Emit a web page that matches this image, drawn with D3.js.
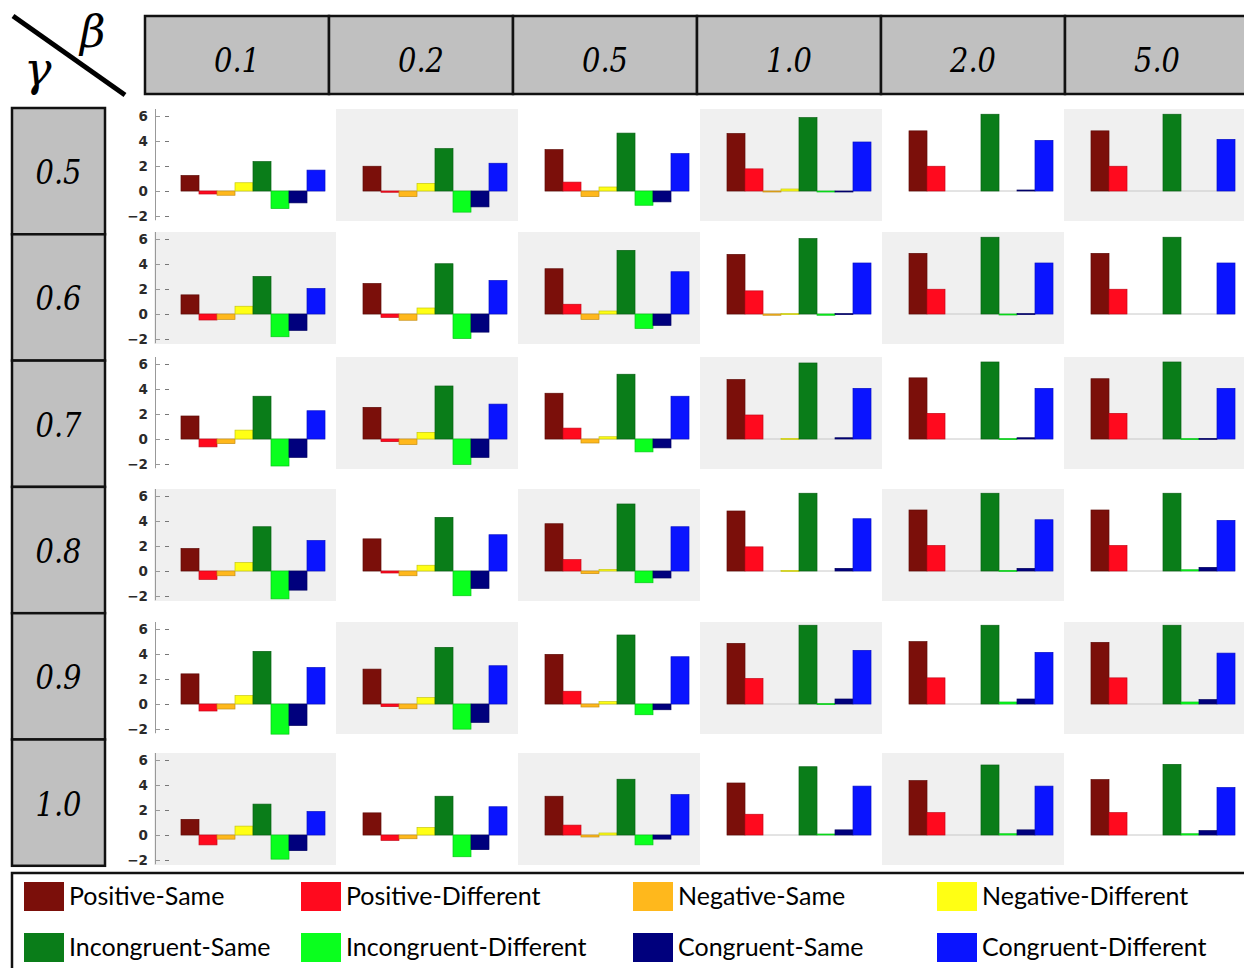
<!DOCTYPE html>
<html>
<head>
<meta charset="utf-8">
<script src="https://cdn.jsdelivr.net/npm/d3@7"></script>
<style>
  body { margin: 0; background: #fff; }
  .serif { font-family: "DejaVu Serif", serif; font-style: italic; }
</style>
</head>
<body>
<svg id="chart" width="1244" height="968"></svg>
<script>
// ---- data ----
const betas = ["0.1", "0.2", "0.5", "1.0", "2.0", "5.0"]
const gammas = ["0.5", "0.6", "0.7", "0.8", "0.9", "1.0"]
const seriesNames = ["Positive-Same", "Positive-Different", "Negative-Same", "Negative-Different",
                     "Incongruent-Same", "Incongruent-Different", "Congruent-Same", "Congruent-Different"]
const seriesColors = ["#7b0f0a", "#ff0a1e", "#ffb81c", "#ffff14", "#0a7d19", "#0aff1e", "#00007d", "#0a14ff"]
const yTicks = [-2, 0, 2, 4, 6]

// one list per gamma row, one entry per beta column, 8 bars in series order
const gamma05 = [
  [1.24, -0.24, -0.34, 0.66, 2.35, -1.40, -0.95, 1.67],
  [1.98, -0.10, -0.45, 0.61, 3.39, -1.69, -1.27, 2.22],
  [3.31, 0.71, -0.45, 0.32, 4.63, -1.14, -0.87, 2.99],
  [4.60, 1.77, -0.08, 0.16, 5.87, -0.08, -0.08, 3.92],
  [4.81, 1.98, 0, 0, 6.14, 0, 0.08, 4.05],
  [4.81, 1.98, 0, 0, 6.14, 0, 0, 4.13]
]
const gamma06 = [
  [1.53, -0.48, -0.43, 0.62, 3.00, -1.82, -1.31, 2.04],
  [2.44, -0.27, -0.50, 0.48, 4.02, -1.96, -1.45, 2.68],
  [3.62, 0.78, -0.43, 0.24, 5.09, -1.15, -0.91, 3.38],
  [4.77, 1.85, -0.10, 0.03, 6.03, -0.10, 0.03, 4.08],
  [4.85, 1.98, 0, 0, 6.14, -0.03, 0.03, 4.08],
  [4.85, 1.98, 0, 0, 6.14, 0, 0, 4.08]
]
const gamma07 = [
  [1.84, -0.63, -0.37, 0.71, 3.42, -2.16, -1.47, 2.26],
  [2.53, -0.21, -0.45, 0.53, 4.24, -2.03, -1.47, 2.79],
  [3.66, 0.87, -0.32, 0.18, 5.18, -1.03, -0.71, 3.42],
  [4.76, 1.92, 0, 0.05, 6.08, 0, 0.10, 4.05],
  [4.89, 2.05, 0, 0, 6.16, 0.03, 0.10, 4.05],
  [4.82, 2.05, 0, 0, 6.16, 0.03, 0.05, 4.05]
]
const gamma08 = [
  [1.80, -0.67, -0.38, 0.67, 3.54, -2.23, -1.53, 2.44],
  [2.57, -0.16, -0.38, 0.46, 4.29, -1.98, -1.39, 2.90],
  [3.78, 0.91, -0.21, 0.13, 5.36, -0.94, -0.56, 3.54],
  [4.80, 1.93, 0, 0.05, 6.22, 0, 0.21, 4.18],
  [4.88, 2.04, 0, 0, 6.22, 0.05, 0.21, 4.10],
  [4.88, 2.04, 0, 0, 6.22, 0.10, 0.29, 4.05]
]
const gamma09 = [
  [2.41, -0.56, -0.40, 0.67, 4.21, -2.41, -1.72, 2.92],
  [2.79, -0.21, -0.38, 0.51, 4.53, -2.01, -1.47, 3.06],
  [3.97, 1.02, -0.24, 0.19, 5.52, -0.86, -0.46, 3.78],
  [4.85, 2.04, 0, 0, 6.30, 0.03, 0.40, 4.29],
  [4.99, 2.09, 0, 0, 6.30, 0.16, 0.40, 4.13],
  [4.93, 2.09, 0, 0, 6.30, 0.16, 0.35, 4.07]
]
const gamma10 = [
  [1.25, -0.79, -0.33, 0.71, 2.47, -1.93, -1.25, 1.88],
  [1.77, -0.43, -0.30, 0.60, 3.10, -1.74, -1.17, 2.26],
  [3.10, 0.79, -0.16, 0.16, 4.46, -0.79, -0.33, 3.23],
  [4.16, 1.66, 0, 0, 5.46, 0.08, 0.41, 3.91],
  [4.35, 1.79, 0, 0, 5.60, 0.10, 0.41, 3.91],
  [4.43, 1.79, 0, 0, 5.65, 0.10, 0.35, 3.80]
]
const values = [gamma05, gamma06, gamma07, gamma08, gamma09, gamma10]

// ---- layout ----
const HEAD_X = 145, HEAD_W = 184, HEAD_Y = 16, HEAD_H = 78
const ROW_X = 12, ROW_W = 93, ROW_TOP = 108, ROW_H = 126.3
const rowZero = [191, 314, 439, 571, 704, 835]   // zero line of each row of panels
const PANEL_X = 154, PANEL_STEP = 182, PANEL_W = 182, PANEL_H = 112, PANEL_UP = 82
const BAR_OFF = 27, BAR_SPAN = 144
const UNIT = 12.5

var svg = d3.select("#chart")
var color = d3.scaleOrdinal().domain(seriesNames).range(seriesColors)

// corner: gamma \ beta
svg.append("line")
    .attr("x1", 13).attr("y1", 16).attr("x2", 125).attr("y2", 95)
    .attr("stroke", "#000").attr("stroke-width", 5)
svg.append("text").attr("class", "serif")
    .attr("x", 80).attr("y", 47)
    .attr("font-size", 44)
    .text("β")
svg.append("text").attr("class", "serif")
    .attr("x", 24).attr("y", 85)
    .attr("font-size", 46)
    .text("γ")

// header of beta values
var head = svg.append("g")
head.selectAll("rect").data(betas).enter().append("rect")
    .attr("x", (d, i) => HEAD_X + i * HEAD_W)
    .attr("y", HEAD_Y)
    .attr("width", HEAD_W).attr("height", HEAD_H)
    .attr("fill", "#c0c0c0").attr("stroke", "#111").attr("stroke-width", 2.5)
head.selectAll("text").data(betas).enter().append("text")
    .attr("class", "serif")
    .attr("x", (d, i) => HEAD_X + i * HEAD_W + HEAD_W / 2)
    .attr("y", HEAD_Y + 56)
    .attr("text-anchor", "middle")
    .attr("font-size", 33)
    .attr("textLength", 46).attr("lengthAdjust", "spacingAndGlyphs")
    .text(d => d)

// row labels of gamma values
var rows = svg.append("g")
rows.selectAll("rect").data(gammas).enter().append("rect")
    .attr("x", ROW_X)
    .attr("y", (d, i) => ROW_TOP + i * ROW_H)
    .attr("width", ROW_W).attr("height", ROW_H)
    .attr("fill", "#c0c0c0").attr("stroke", "#111").attr("stroke-width", 2.5)
rows.selectAll("text").data(gammas).enter().append("text")
    .attr("class", "serif")
    .attr("x", ROW_X + ROW_W / 2)
    .attr("y", (d, i) => ROW_TOP + i * ROW_H + ROW_H / 2 + 13)
    .attr("text-anchor", "middle")
    .attr("font-size", 33)
    .attr("textLength", 46).attr("lengthAdjust", "spacingAndGlyphs")
    .text(d => d)

// panels
gammas.forEach(function (g, r) {
    var zero = rowZero[r]
    var y = d3.scaleLinear().domain([-2.3, 6.6]).range([zero + 2.3 * UNIT, zero - 6.6 * UNIT])
    betas.forEach(function (b, c) {
        var px = PANEL_X + c * PANEL_STEP
        var panel = svg.append("g")
        if ((r + c) % 2 === 1) {
            panel.append("rect")
                .attr("x", px).attr("y", zero - PANEL_UP)
                .attr("width", PANEL_W).attr("height", PANEL_H)
                .attr("fill", "#f0f0f0")
        }
        var x = d3.scaleBand().domain(seriesNames).range([px + BAR_OFF, px + BAR_OFF + BAR_SPAN]).padding(0)
        panel.append("line")
            .attr("x1", px + BAR_OFF).attr("x2", px + BAR_OFF + BAR_SPAN)
            .attr("y1", y(0)).attr("y2", y(0))
            .attr("stroke", "#c8c8c8").attr("stroke-width", 1)
        var data = seriesNames.map((s, k) => ({ key: s, v: values[r][c][k] }))
        panel.selectAll("rect.bar").data(data.filter(d => d.v !== 0)).enter().append("rect")
            .attr("class", "bar")
            .attr("x", d => x(d.key))
            .attr("y", d => y(Math.max(0, d.v)))
            .attr("width", x.bandwidth())
            .attr("height", d => Math.max(1, Math.abs(y(d.v) - y(0))))
            .attr("fill", d => color(d.key))
            .attr("stroke", d => d3.color(color(d.key)).darker(0.7))
            .attr("stroke-width", 0.7)

        if (c === 0) {
            var ax = panel.append("g")
                .attr("transform", "translate(" + (px + 1) + ",0)")
                .call(d3.axisLeft(y).tickValues(yTicks).tickSizeInner(-5).tickSizeOuter(0).tickPadding(7))
            ax.select(".domain").attr("stroke", "#999")
            ax.selectAll(".tick line").attr("stroke", "#999")
            ax.selectAll(".tick text")
                .attr("font-family", "DejaVu Sans").attr("font-weight", "bold").attr("font-size", 13.5)
                .attr("fill", "#2a2a2a")
            ax.selectAll(".tick").append("line")
                .attr("x1", 10).attr("x2", 14)
                .attr("stroke", "#777").attr("stroke-width", 1)
        }
    })
})

// legend
var legend = svg.append("g")
legend.append("rect")
    .attr("x", 12).attr("y", 873).attr("width", 1250).attr("height", 120)
    .attr("fill", "#fff").attr("stroke", "#111").attr("stroke-width", 2.5)
const legendCols = [24, 301, 633, 937]
var items = legend.selectAll("g.item").data(seriesNames).enter().append("g")
    .attr("class", "item")
    .attr("transform", (d, i) => "translate(" + legendCols[i % 4] + "," + (882 + Math.floor(i / 4) * 51) + ")")
items.append("rect")
    .attr("width", 40).attr("height", 29)
    .attr("fill", d => color(d))
items.append("text")
    .attr("x", 45).attr("y", 23)
    .attr("font-family", "Lato").attr("font-size", 25)
    .attr("fill", "#000")
    .text(d => d)
</script>
</body>
</html>
